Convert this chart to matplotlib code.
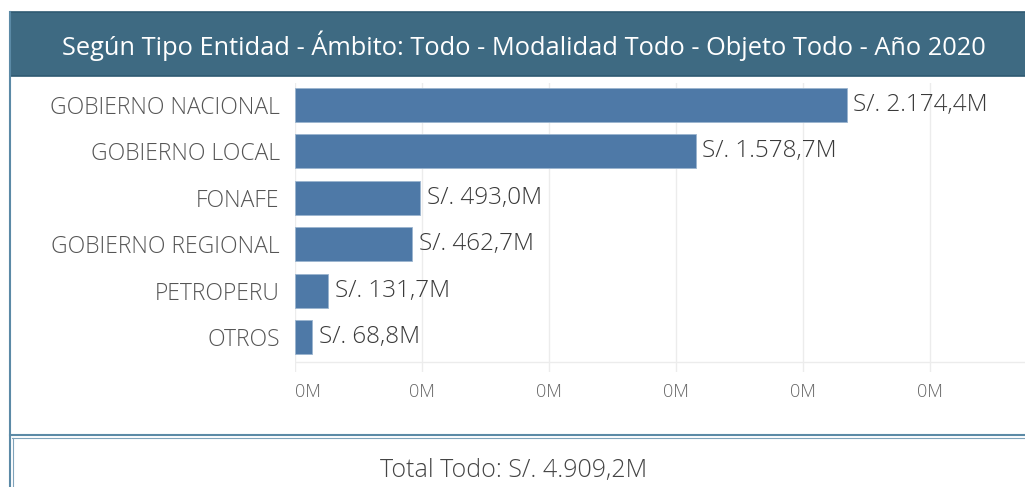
import matplotlib.pyplot as plt
from matplotlib.patches import Rectangle
from matplotlib.lines import Line2D

# data
entidades = ['GOBIERNO NACIONAL', 'GOBIERNO LOCAL', 'FONAFE',
             'GOBIERNO REGIONAL', 'PETROPERU', 'OTROS']
montos = [2174.4, 1578.7, 493.0, 462.7, 131.7, 68.8]  # millones S/.
ticks = [0, 500, 1000, 1500, 2000, 2500]
tick_labels = ['0M'] * 6
titulo = 'Según Tipo Entidad - Ámbito: Todo - Modalidad Todo - Objeto Todo - Año 2020'
total_txt = 'Total Todo: S/. 4.909,2M'

plt.rcParams['font.family'] = ['Open Sans', 'DejaVu Sans']
plt.rcParams['font.weight'] = 300

W, H = 1025, 487
fig = plt.figure(figsize=(W / 100, H / 100), dpi=100)


def fx(px):
    return px / W


def fy(py):
    return 1 - py / H


def fmt(v):  # 2174.4 -> 2.174,4
    s = f'{v:,.1f}'
    return s.replace(',', '#').replace('.', ',').replace('#', '.')


# header band
fig.patches.append(Rectangle((fx(10), fy(76)), 1, 64 / H, transform=fig.transFigure,
                             facecolor='#3e6a82', edgecolor='#2f5a72', lw=1.2))
fig.text(fx(524), fy(46), titulo, color='white', fontsize=18.3,
         ha='center', va='center', fontweight='normal')

# borders
fig.lines.append(Line2D([fx(10), fx(10)], [fy(12), 0], transform=fig.transFigure,
                        color='#5b8aa6', lw=1.5))
fig.lines.append(Line2D([fx(10), 1], [fy(435), fy(435)], transform=fig.transFigure,
                        color='#5b8aa6', lw=1.5))
fig.lines.append(Line2D([fx(12), 1], [fy(438), fy(438)], transform=fig.transFigure,
                        color='#7fa3ba', lw=0.8))
fig.lines.append(Line2D([fx(13), fx(13)], [fy(438), 0], transform=fig.transFigure,
                        color='#7fa3ba', lw=0.8))

# bar chart
ax = fig.add_axes([fx(295), fy(372), fx(1025) - fx(295), (372 - 83) / H])
y = list(range(len(entidades)))
ax.barh(y, montos, height=0.73, color='#4e79a7', edgecolor='#9bb5cf', lw=0.6, zorder=3)
for yi, v in zip(y, montos):
    ax.text(v + 25, yi, f'S/. {fmt(v)}M', va='center', ha='left',
            fontsize=17.5, color='#3a3a3a', zorder=4)

ax.set_ylim(5.75, -0.474)
ax.set_xlim(0, 2875)
ax.set_yticks(y)
ax.set_yticklabels(entidades, fontsize=16.5, color='#555555')
ax.set_xticks(ticks)
ax.set_xticklabels(tick_labels, fontsize=13, color='#666666')
ax.get_xticklabels()[0].set_ha('left')  # first label sits right of the zero line
ax.tick_params(axis='both', length=0)
ax.tick_params(axis='x', pad=8)
ax.tick_params(axis='y', pad=11)
ax.grid(axis='x', color='#ececec', lw=1, zorder=0)
for sp in ax.spines.values():
    sp.set_visible(False)
ax.axhline(5.54, color='#ececec', lw=1, zorder=1)

fig.text(fx(514), fy(470), total_txt, fontsize=18, color='#444444',
         ha='center', va='center')

fig.savefig('out.png', dpi=100, facecolor='white')
